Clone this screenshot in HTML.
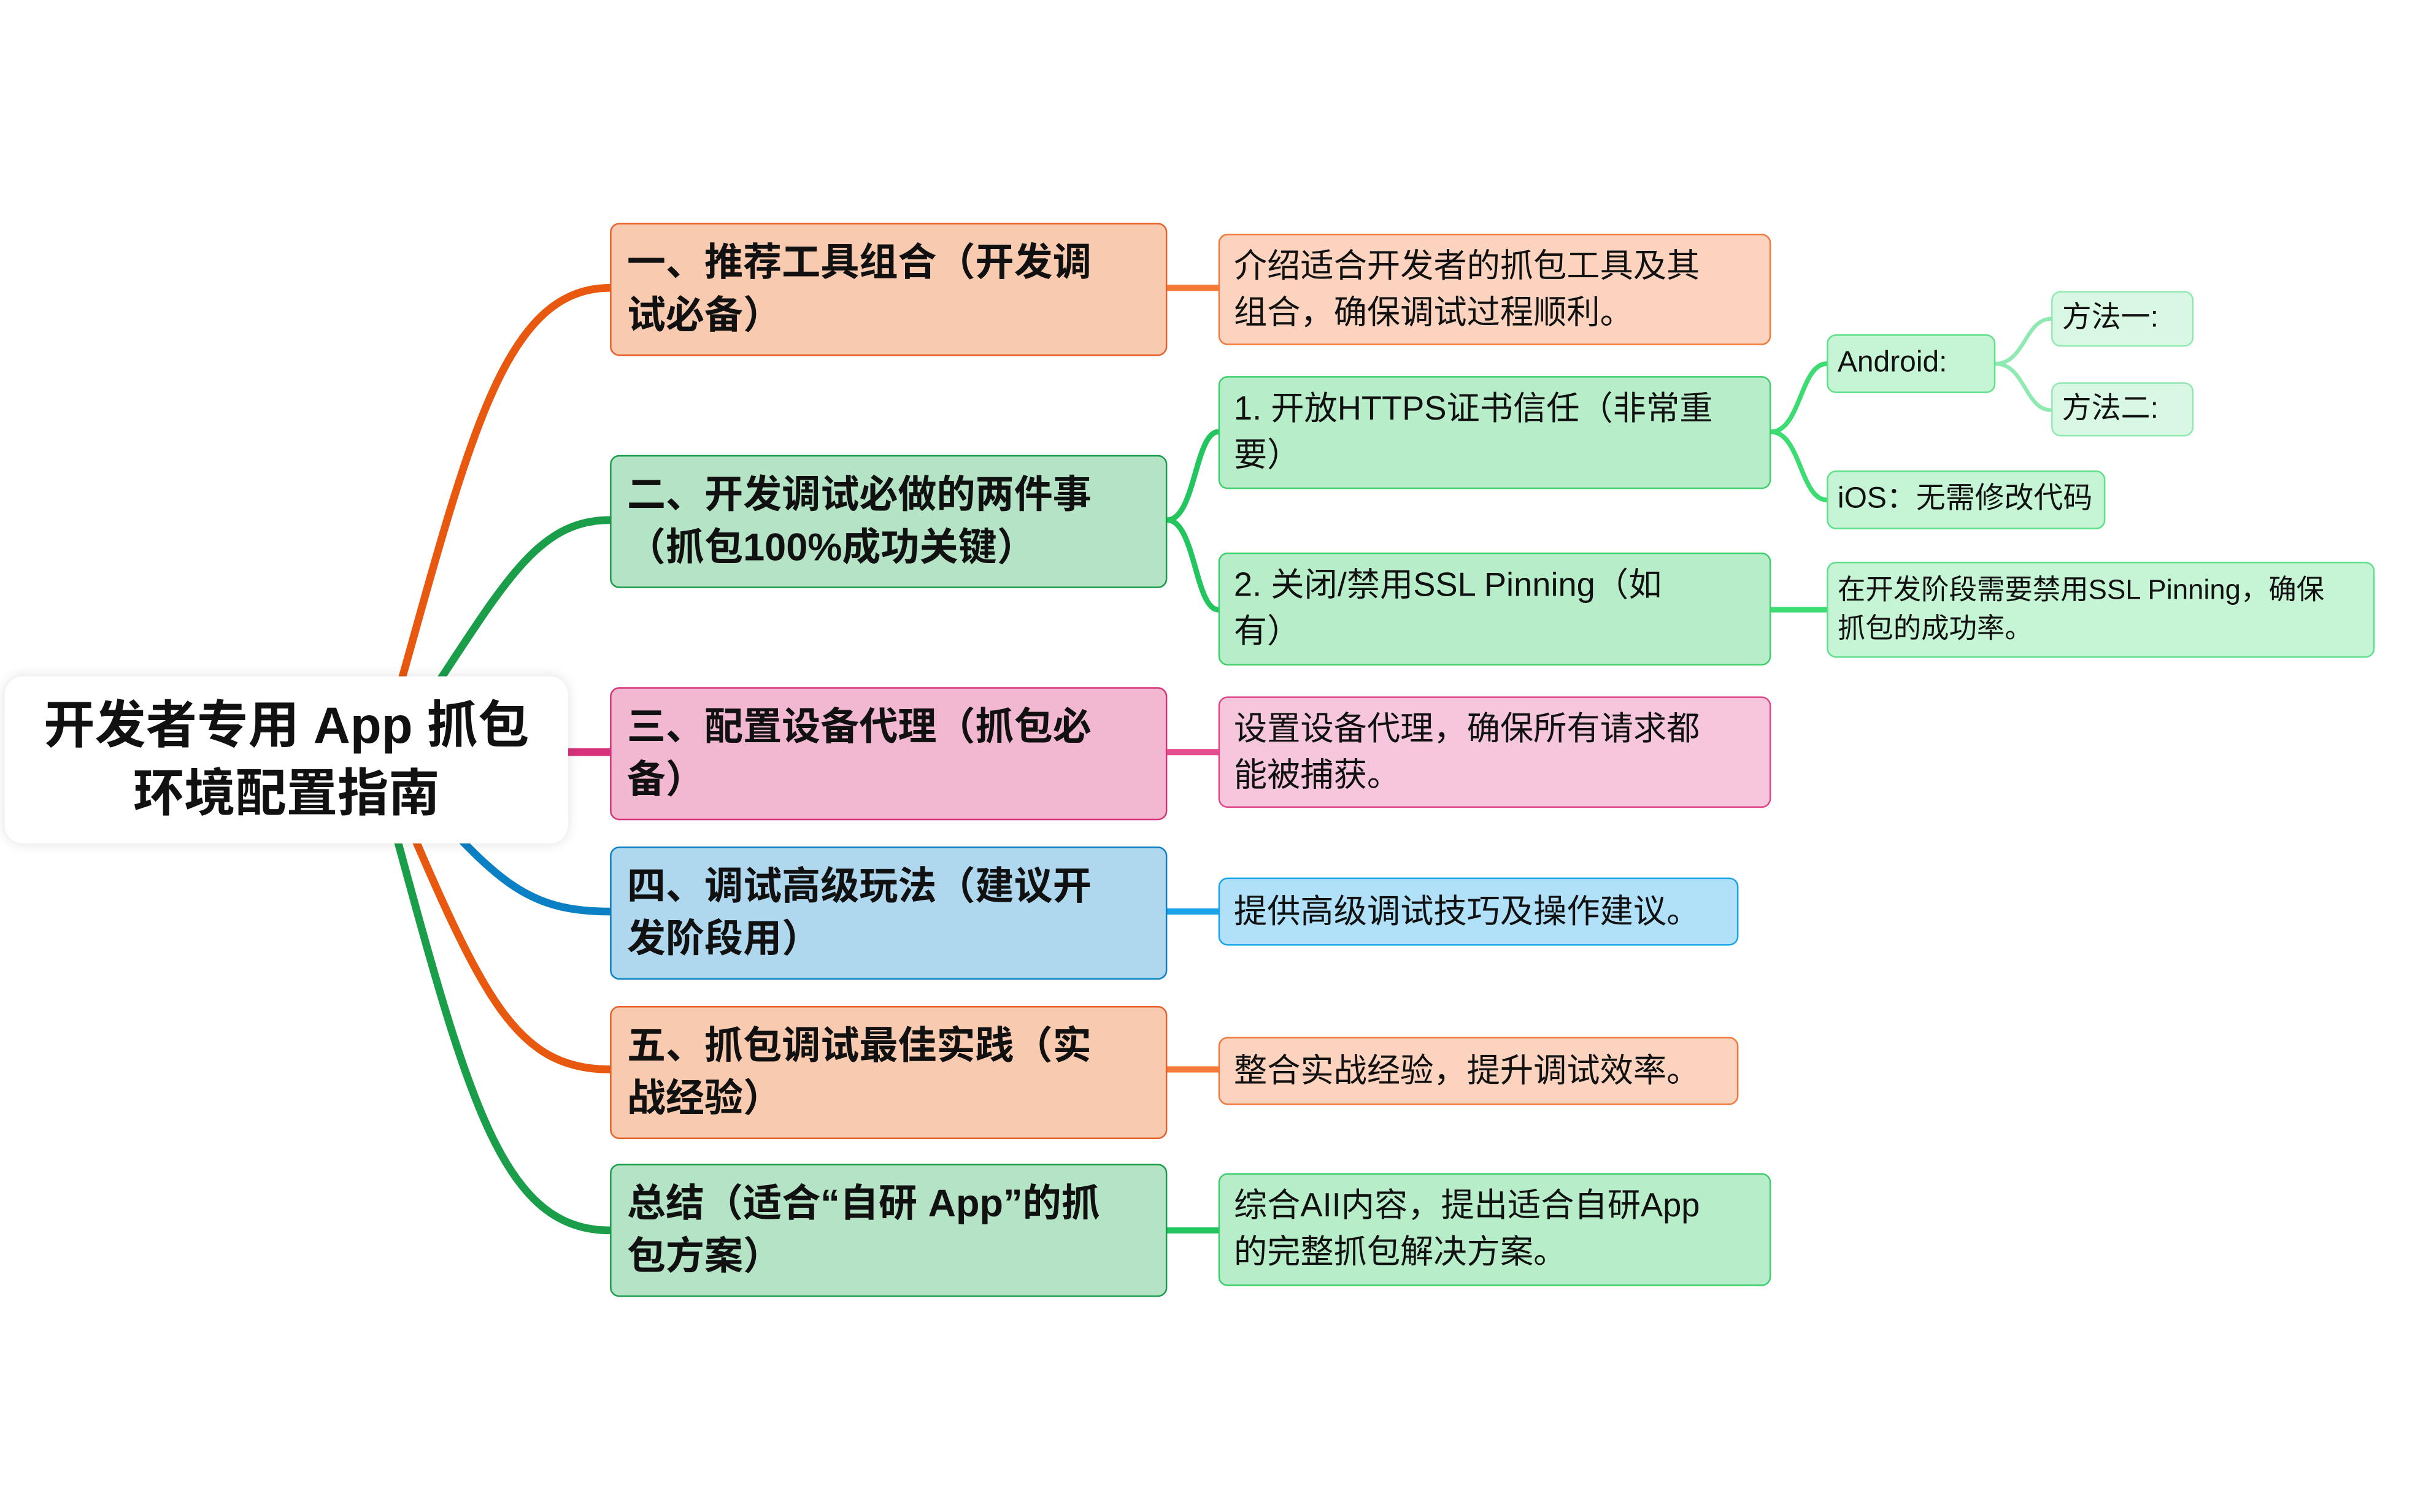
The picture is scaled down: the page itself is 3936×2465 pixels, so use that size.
<!DOCTYPE html>
<html><head><meta charset="utf-8"><style>
html,body{margin:0;padding:0;background:#fff;}
body{width:3936px;height:2464px;overflow:hidden;position:relative;}
#w{position:absolute;left:0;top:0;width:1560px;height:977px;transform:scale(2.5231);transform-origin:0 0;}
svg{position:absolute;left:0;top:0;}
.n{position:absolute;box-sizing:border-box;border:1px solid;border-radius:6px;white-space:nowrap;font-family:"Liberation Sans","Noto Sans CJK SC",sans-serif;color:#111;}
.m{left:394px;width:360px;height:86px;font-weight:bold;font-size:25px;line-height:34px;padding:8px 0 0 10px;}
.c{font-size:21.5px;line-height:30px;padding:5px 0 0 9px;}
.g{font-size:18px;line-height:25px;padding:5px 0 0 6px;}
.or{background:#f8cbb0;border-color:#e8612a;}
.gr{background:#b5e3c6;border-color:#1a9e4a;}
.pk{background:#f2b8d2;border-color:#d6337a;}
.bl{background:#afd8ef;border-color:#0b80c4;}
.cor{background:#fbd3be;border-color:#f07a3c;}
.cgr{background:#b8edc9;border-color:#3ccf6c;}
.cpk{background:#f6c6dc;border-color:#e0458a;}
.cbl{background:#b0e1f8;border-color:#1aa3e8;}
.ggr{background:#c6f5d5;border-color:#5fe08a;}
.hgr{background:#d9f8e3;border-color:#8eeab0;}
</style></head><body><div id="w">
<svg width="1560" height="977" viewBox="0 0 1560 977" fill="none" stroke-linecap="round">
<path d="M245,490 C300,300 320,186 394,186" stroke="#e8580f" stroke-width="5"/>
<path d="M250,490 C320,390 340,336 394,336" stroke="#1a9e4a" stroke-width="5"/>
<path d="M300,486 L394,486" stroke="#d6337a" stroke-width="5"/>
<path d="M260,500 C320,570 340,589 394,589" stroke="#0b80c4" stroke-width="5"/>
<path d="M250,500 C310,640 330,691 394,691" stroke="#e8580f" stroke-width="5"/>
<path d="M245,500 C300,700 320,795 394,795" stroke="#1a9e4a" stroke-width="5"/>
<path d="M754,186 L787,186" stroke="#f57a35" stroke-width="4"/>
<path d="M754,336 C772,336 772,279 787,279" stroke="#22c55e" stroke-width="3.5"/>
<path d="M754,336 C772,336 772,394 787,394" stroke="#22c55e" stroke-width="3.5"/>
<path d="M754,486 L787,486" stroke="#e4508f" stroke-width="4"/>
<path d="M754,589 L787,589" stroke="#1aa3e8" stroke-width="4"/>
<path d="M754,691 L787,691" stroke="#f57a35" stroke-width="4"/>
<path d="M754,795 L787,795" stroke="#22c55e" stroke-width="4"/>
<path d="M1144,279 C1163,279 1163,235 1180,235" stroke="#3ddc72" stroke-width="3"/>
<path d="M1144,279 C1163,279 1163,323 1180,323" stroke="#3ddc72" stroke-width="3"/>
<path d="M1144,394 L1180,394" stroke="#3ddc72" stroke-width="3.5"/>
<path d="M1289,235 C1308,235 1308,206 1325,206" stroke="#8eeab0" stroke-width="2.5"/>
<path d="M1289,235 C1308,235 1308,265 1325,265" stroke="#8eeab0" stroke-width="2.5"/>
</svg>
<div class="n" style="left:3px;top:437px;width:364px;height:108px;background:#fff;border:none;border-radius:12px;box-shadow:0 0 8px rgba(0,0,0,0.12);font-weight:bold;font-size:33px;line-height:44px;text-align:center;padding-top:10px;">开发者专用 App 抓包<br>环境配置指南</div>
<div class="n m or" style="top:144px;">一、推荐工具组合（开发调<br>试必备）</div>
<div class="n m gr" style="top:294px;">二、开发调试必做的两件事<br>（抓包100%成功关键）</div>
<div class="n m pk" style="top:444px;">三、配置设备代理（抓包必<br>备）</div>
<div class="n m bl" style="top:547px;">四、调试高级玩法（建议开<br>发阶段用）</div>
<div class="n m or" style="top:650px;">五、抓包调试最佳实践（实<br>战经验）</div>
<div class="n m gr" style="top:752px;">总结（适合“自研 App”的抓<br>包方案）</div>
<div class="n c cor" style="left:787px;top:151px;width:357px;height:72px;">介绍适合开发者的抓包工具及其<br>组合，确保调试过程顺利。</div>
<div class="n c cgr" style="left:787px;top:243px;width:357px;height:73px;">1. 开放HTTPS证书信任（非常重<br>要）</div>
<div class="n c cgr" style="left:787px;top:357px;width:357px;height:73px;">2. 关闭/禁用SSL Pinning（如<br>有）</div>
<div class="n c cpk" style="left:787px;top:450px;width:357px;height:72px;">设置设备代理，确保所有请求都<br>能被捕获。</div>
<div class="n c cbl" style="left:787px;top:567px;width:336px;height:44px;padding-top:6px;">提供高级调试技巧及操作建议。</div>
<div class="n c cor" style="left:787px;top:670px;width:336px;height:44px;padding-top:6px;">整合实战经验，提升调试效率。</div>
<div class="n c cgr" style="left:787px;top:758px;width:357px;height:73px;">综合AII内容，提出适合自研App<br>的完整抓包解决方案。</div>
<div class="n g ggr" style="left:1180px;top:216px;width:109px;height:38px;font-size:19px;">Android:</div>
<div class="n g ggr" style="left:1180px;top:304px;width:180px;height:38px;font-size:19px;">iOS：无需修改代码</div>
<div class="n g ggr" style="left:1180px;top:363px;width:354px;height:62px;">在开发阶段需要禁用SSL Pinning，确保<br>抓包的成功率。</div>
<div class="n g hgr" style="left:1325px;top:188px;width:92px;height:36px;font-size:19px;padding-top:4px;">方法一:</div>
<div class="n g hgr" style="left:1325px;top:247px;width:92px;height:35px;font-size:19px;padding-top:4px;">方法二:</div>
</div></body></html>
